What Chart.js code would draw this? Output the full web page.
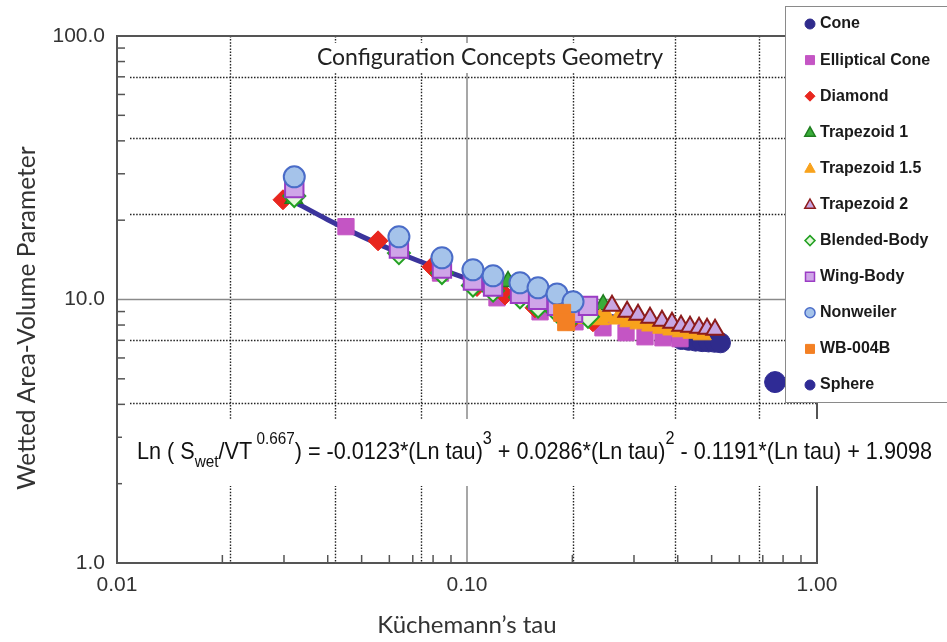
<!DOCTYPE html>
<html>
<head>
<meta charset="utf-8">
<title>Configuration Concepts Geometry</title>
<script src="https://cdn.jsdelivr.net/npm/chart.js@4.4.1/dist/chart.umd.min.js"></script>
<style>
html, body { margin:0; padding:0; background:#fff; }
#wrap { width:947px; height:642px; position:relative; }
</style>
</head>
<body>
<div id="wrap"><canvas id="chart" width="947" height="642"></canvas></div>
<script>
// values (tau, wetted area-volume parameter)
var coneTau = [0.41, 0.43, 0.45, 0.47, 0.49, 0.51, 0.53];
var coneVal = [7.05, 7.0, 6.95, 6.92, 6.9, 6.88, 6.85];
var ellTau = [0.032, 0.0451, 0.084, 0.1218, 0.1617, 0.2035, 0.2446, 0.2847, 0.3226, 0.363, 0.406];
var ellVal = [25.5, 18.9, 12.6, 10.15, 8.98, 8.23, 7.81, 7.48, 7.22, 7.16, 7.1];
var diaTau = [0.0298, 0.0557, 0.0794, 0.1068, 0.1284, 0.1564, 0.1995, 0.229];
var diaVal = [23.9, 16.7, 13.3, 11.2, 10.4, 9.3, 8.38, 8.23];
var trap1Tau = [0.032, 0.064, 0.085, 0.105, 0.131, 0.16, 0.2, 0.245];
var trap1Val = [24.2, 15.3, 12.9, 12.0, 11.7, 9.9, 9.2, 9.55];
var trap15Tau = [0.19, 0.2, 0.21, 0.22, 0.23, 0.24, 0.25, 0.27, 0.29, 0.31, 0.335, 0.36, 0.385, 0.41, 0.44, 0.47];
var trap15Val = [9.3, 8.6, 9.05, 8.5, 8.85, 8.4, 8.65, 8.45, 8.25, 8.1, 7.95, 7.8, 7.68, 7.56, 7.46, 7.36];
var trap2Tau = [0.2596, 0.2867, 0.3081, 0.3333, 0.3606, 0.3852, 0.4088, 0.4337, 0.4602, 0.4851, 0.5113];
var trap2Val = [9.46, 8.98, 8.75, 8.52, 8.3, 8.16, 7.95, 7.88, 7.81, 7.74, 7.67];
var blendTau = [0.0321, 0.0639, 0.0848, 0.104, 0.1187, 0.1417, 0.1596, 0.1808, 0.2009, 0.2217];
var blendVal = [24.7, 15.0, 12.6, 11.3, 10.8, 10.2, 9.4, 9.0, 8.7, 8.6];
var wingTau = [0.0321, 0.0639, 0.0848, 0.104, 0.1187, 0.1417, 0.1596, 0.1808, 0.2009, 0.2217];
var wingVal = [26.5, 15.6, 13.1, 11.8, 11.2, 10.5, 9.97, 9.46, 8.91, 9.46];
var nonTau = [0.0321, 0.0639, 0.0848, 0.104, 0.1187, 0.1417, 0.1596, 0.1808, 0.2009];
var nonVal = [29.2, 17.3, 14.4, 12.96, 12.3, 11.57, 11.08, 10.5, 9.8];
var wbTau = [0.187, 0.192];
var wbVal = [8.9, 8.2];
var sphereTau = [0.759];
var sphereVal = [4.86];
var fitTau = [0.0315, 0.04, 0.05, 0.065, 0.08, 0.1, 0.12, 0.15, 0.2, 0.25, 0.3, 0.4, 0.5, 0.53];
var fitVal = [23.8, 20.08, 17.36, 14.88, 13.35, 12.01, 11.12, 10.2, 9.27, 8.69, 8.3, 7.79, 7.47, 7.39];

var xTicks = [0.01, 0.1, 1];
var yTicks = [1, 10, 100];
var xMinor = [0.02, 0.03, 0.04, 0.05, 0.06, 0.07, 0.08, 0.09, 0.2, 0.3, 0.4, 0.5, 0.6, 0.7, 0.8, 0.9];
var yMinor = [2, 3, 4, 5, 6, 7, 8, 9, 20, 30, 40, 50, 60, 70, 80, 90];
var xDotted = [0.021, 0.042, 0.074, 0.201, 0.393, 0.682];
var yDotted = [2, 4.06, 7.05, 21.1, 41, 70];

var chartTitle = 'Configuration Concepts Geometry';
var xTitle = 'Küchemann’s tau';
var yTitle = 'Wetted Area-Volume Parameter';

function pts(t, v) {
    var out = [];
    for (var i = 0; i < t.length; i++) out.push({x: t[i], y: v[i]});
    return out;
}

var series = [
    {label: 'Cone', data: pts(coneTau, coneVal), style: 'circle', r: 10, fill: '#2f2b8c', line: '#2f2b8c', lw: 1},
    {label: 'Elliptical Cone', data: pts(ellTau, ellVal), style: 'rect', r: 11.5, fill: '#c455c4', line: '#c455c4', lw: 1},
    {label: 'Diamond', data: pts(diaTau, diaVal), style: 'rectRot', r: 10, fill: '#e8261e', line: '#e8261e', lw: 1},
    {label: 'Trapezoid 1', data: pts(trap1Tau, trap1Val), style: 'triangle', r: 10, fill: '#3aad3a', line: '#1f7d1f', lw: 1.5},
    {label: 'Trapezoid 1.5', data: pts(trap15Tau, trap15Val), style: 'triangle', r: 10.5, fill: '#f8a21c', line: '#f8a21c', lw: 1},
    {label: 'Trapezoid 2', data: pts(trap2Tau, trap2Val), style: 'triangle', r: 10, fill: '#c8a6e2', line: '#8c1c1c', lw: 2},
    {label: 'Blended-Body', data: pts(blendTau, blendVal), style: 'rectRot', r: 11, fill: '#e4f8dc', line: '#22a022', lw: 2},
    {label: 'Wing-Body', data: pts(wingTau, wingVal), style: 'rect', r: 13, fill: '#cfa5e8', line: '#9b3cc4', lw: 2},
    {label: 'Nonweiler', data: pts(nonTau, nonVal), style: 'circle', r: 10.5, fill: '#a5c3ea', line: '#4a6cc8', lw: 2},
    {label: 'WB-004B', data: pts(wbTau, wbVal), style: 'rect', r: 12, fill: '#f38024', line: '#f38024', lw: 1},
    {label: 'Sphere', data: pts(sphereTau, sphereVal), style: 'circle', r: 10.5, fill: '#2f2b95', line: '#2f2b95', lw: 1}
];

var datasets = series.map(function(s, i) {
    return {
        label: s.label, data: s.data, showLine: false,
        pointStyle: s.style, pointRadius: s.r, pointHoverRadius: s.r,
        backgroundColor: s.fill, borderColor: s.line, pointBorderWidth: s.lw,
        order: -i
    };
});
datasets.push({
    label: 'fit', data: pts(fitTau, fitVal), showLine: true, pointRadius: 0,
    borderColor: '#3b349c', borderWidth: 5, tension: 0.3, order: 100
});

function marker(ctx, style, x, y, r) {
    ctx.beginPath();
    if (style == 'circle') {
        ctx.arc(x, y, r, 0, Math.PI * 2);
    } else if (style == 'rect') {
        ctx.rect(x - r, y - r, 2 * r, 2 * r);
    } else if (style == 'rectRot') {
        ctx.moveTo(x - r, y); ctx.lineTo(x, y - r); ctx.lineTo(x + r, y); ctx.lineTo(x, y + r); ctx.closePath();
    } else {
        ctx.moveTo(x, y - r); ctx.lineTo(x + r * 0.95, y + r * 0.7); ctx.lineTo(x - r * 0.95, y + r * 0.7); ctx.closePath();
    }
    ctx.fill();
    ctx.stroke();
}

var framePlugin = {
    id: 'frame',
    beforeDatasetsDraw: function(chart) {
        var ctx = chart.ctx, a = chart.chartArea, sx = chart.scales.x, sy = chart.scales.y;
        ctx.save();
        // dotted grid
        ctx.strokeStyle = '#222';
        ctx.lineWidth = 1.4;
        ctx.setLineDash([1.5, 1.6]);
        xDotted.forEach(function(v) {
            var p = Math.round(sx.getPixelForValue(v)) + 0.5;
            ctx.beginPath(); ctx.moveTo(p, a.top); ctx.lineTo(p, a.bottom); ctx.stroke();
        });
        yDotted.forEach(function(v) {
            var p = Math.round(sy.getPixelForValue(v)) + 0.5;
            ctx.beginPath(); ctx.moveTo(a.left + 13, p); ctx.lineTo(a.right, p); ctx.stroke();
        });
        ctx.setLineDash([]);
        // solid decade lines
        ctx.strokeStyle = '#8a8a8a';
        ctx.lineWidth = 1.5;
        xTicks.forEach(function(v) {
            var p = sx.getPixelForValue(v);
            ctx.beginPath(); ctx.moveTo(p, a.top); ctx.lineTo(p, a.bottom); ctx.stroke();
        });
        yTicks.forEach(function(v) {
            var p = sy.getPixelForValue(v);
            ctx.beginPath(); ctx.moveTo(a.left, p); ctx.lineTo(a.right, p); ctx.stroke();
        });
        // minor ticks, pointing inward
        ctx.strokeStyle = '#555';
        ctx.lineWidth = 1.5;
        xMinor.forEach(function(v) {
            var p = sx.getPixelForValue(v);
            ctx.beginPath(); ctx.moveTo(p, a.bottom); ctx.lineTo(p, a.bottom - 8); ctx.stroke();
        });
        yMinor.forEach(function(v) {
            var p = sy.getPixelForValue(v);
            ctx.beginPath(); ctx.moveTo(a.left, p); ctx.lineTo(a.left + 8, p); ctx.stroke();
        });
        // frame
        ctx.strokeStyle = '#555';
        ctx.lineWidth = 2;
        ctx.strokeRect(a.left, a.top, a.right - a.left, a.bottom - a.top);
        ctx.restore();
    },
    afterDraw: function(chart) {
        var ctx = chart.ctx, a = chart.chartArea;
        ctx.save();

        // y axis title, sits a little below the middle of the axis
        ctx.translate(27, 318);
        ctx.rotate(-Math.PI / 2);
        ctx.font = '24.5px Lato';
        ctx.fillStyle = '#333';
        ctx.textAlign = 'center';
        ctx.textBaseline = 'middle';
        ctx.fillText(yTitle, 0, 0);
        ctx.setTransform(1, 0, 0, 1, 0, 0);

        // chart title in a white box
        ctx.font = '23px Lato';
        var tw = ctx.measureText(chartTitle).width;
        ctx.fillStyle = '#fff';
        ctx.fillRect(490 - tw / 2 - 6, 43, tw + 12, 30);
        ctx.fillStyle = '#222';
        ctx.fillText(chartTitle, 490, 58);

        // equation box
        ctx.fillStyle = '#fff';
        ctx.fillRect(a.left + 5, 419, 818, 67);
        var parts = [
            ['Ln ( S', 0, 24], ['wet', 8, 17], ['/VT', 0, 24], [' 0.667', -15, 17],
            [') = -0.0123*(Ln tau)', 0, 24], ['3', -15, 18], [' + 0.0286*(Ln tau)', 0, 24],
            ['2', -15, 18], [' - 0.1191*(Ln tau) + 1.9098', 0, 24]
        ];
        var total = 0;
        parts.forEach(function(p) {
            ctx.font = p[2] + 'px "Liberation Sans"';
            total += ctx.measureText(p[0]).width;
        });
        var k = 795 / total;
        ctx.translate(137, 459);
        ctx.scale(k, 1);
        ctx.fillStyle = '#111';
        ctx.textAlign = 'left';
        ctx.textBaseline = 'alphabetic';
        var cx = 0;
        parts.forEach(function(p) {
            ctx.font = p[2] + 'px "Liberation Sans"';
            ctx.fillText(p[0], cx, p[1]);
            cx += ctx.measureText(p[0]).width;
        });
        ctx.setTransform(1, 0, 0, 1, 0, 0);

        // legend box
        ctx.fillStyle = '#fff';
        ctx.strokeStyle = '#8a8a8a';
        ctx.lineWidth = 1;
        ctx.fillRect(785, 6, 162, 396);
        ctx.strokeRect(785.5, 6.5, 170, 396);
        ctx.font = 'bold 16px "Liberation Sans"';
        ctx.textAlign = 'left';
        ctx.textBaseline = 'middle';
        series.forEach(function(s, i) {
            var y = 24 + i * 36.1;
            ctx.fillStyle = s.fill;
            ctx.strokeStyle = s.line;
            ctx.lineWidth = s.lw > 1 ? 1.5 : 1;
            var r = s.style == 'rect' ? 4.5 : (s.style == 'triangle' ? 5.5 : 5);
            marker(ctx, s.style, 810, y, r);
            ctx.fillStyle = '#1a1a1a';
            ctx.fillText(s.label, 820, y);
        });
        ctx.restore();
    }
};

var chart = new Chart(document.getElementById('chart'), {
    type: 'scatter',
    data: {datasets: datasets},
    options: {
        responsive: false,
        animation: false,
        layout: {padding: {left: 0, top: 36, right: 130, bottom: 0}},
        plugins: {legend: {display: false}, tooltip: {enabled: false}},
        scales: {
            x: {
                type: 'logarithmic', min: 0.01, max: 1,
                grid: {display: false, drawTicks: false},
                border: {display: false},
                afterBuildTicks: function(s) { s.ticks = xTicks.map(function(v) { return {value: v}; }); },
                afterFit: function(s) { s.height = 79; },
                ticks: {
                    autoSkip: false, maxRotation: 0, padding: 10, color: '#333',
                    font: {family: '"Liberation Sans"', size: 21},
                    callback: function(v) { return Number(v).toFixed(2); }
                },
                title: {display: true, text: xTitle, color: '#333', font: {family: 'Lato', size: 24}, padding: {top: 0, bottom: 2}}
            },
            y: {
                type: 'logarithmic', min: 1, max: 100,
                grid: {display: false, drawTicks: false},
                border: {display: false},
                afterBuildTicks: function(s) { s.ticks = yTicks.map(function(v) { return {value: v}; }); },
                afterFit: function(s) { s.width = 117; },
                ticks: {
                    autoSkip: false, padding: 12, color: '#333',
                    font: {family: '"Liberation Sans"', size: 21},
                    callback: function(v) { return Number(v).toFixed(1); }
                }
            }
        }
    },
    plugins: [framePlugin]
});
</script>
</body>
</html>
